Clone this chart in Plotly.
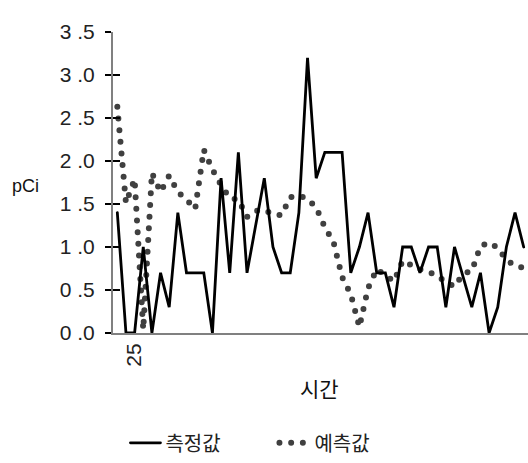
import plotly.graph_objects as go

# ---- data ----
time = list(range(23, 71))  # 48 time steps
measured = [1.4, 0, 0, 1.0, 0, 0.7, 0.3, 1.4, 0.7, 0.7, 0.7, 0, 1.8, 0.7, 2.1, 0.7,
            1.25, 1.8, 1.0, 0.7, 0.7, 1.4, 3.2, 1.8, 2.1, 2.1, 2.1, 0.7, 1.0, 1.4, 0.7, 0.7,
            0.3, 1.0, 1.0, 0.7, 1.0, 1.0, 0.3, 1.0, 0.65, 0.3, 0.7, 0, 0.3, 1.0, 1.4, 1.0]
predicted = [2.63, 1.51, 1.79, 0.04, 1.86, 1.64, 1.83, 1.64, 1.55, 1.44, 2.13, 1.9,
             1.72, 1.57, 1.55, 1.35, 1.42, 1.43, 1.38, 1.37, 1.58, 1.6, 1.56, 1.46,
             1.23, 1.06, 0.65, 0.45, 0.07, 0.52, 0.74, 0.67, 0.6, 0.84, 0.78, 0.74,
             0.71, 0.67, 0.59, 0.54, 0.69, 0.72, 1.01, 1.05, 0.99, 0.85, 0.78, 0.76]
y_ticks = [0, 0.5, 1.0, 1.5, 2.0, 2.5, 3.0, 3.5]
y_tick_text = ["0 .0", "0 .5", "1 .0", "1 .5", "2 .0", "2 .5", "3 .0", "3 .5"]
x_ticks = [25]
x_tick_text = ["25"]

fig = go.Figure()
fig.add_trace(go.Scatter(
    x=time, y=predicted, name="예측값", mode="lines",
    line=dict(color="#404040", width=6, dash="0px,11.7px"),
    yaxis="y", hoverinfo="skip",
))
fig.add_trace(go.Scatter(
    x=time, y=measured, name="측정값", mode="lines",
    line=dict(color="#000000", width=2.8),
    yaxis="y2", hoverinfo="skip",
))

axis_font = dict(family="Liberation Sans, Arial, sans-serif", size=21, color="#222222")

fig.update_layout(
    width=528, height=463,
    margin=dict(l=113, r=0, t=32, b=130),
    plot_bgcolor="white", paper_bgcolor="white",
    hovermode=False,
    showlegend=True,
    legend=dict(
        orientation="h", x=0.03, xanchor="left", y=-0.365, yanchor="middle",
        font=dict(family="Noto Sans CJK KR", size=20, color="#222222"),
        traceorder="reversed", entrywidth=104, itemwidth=30,
    ),
    xaxis=dict(
        range=[22.5, 70.5], tickmode="array", tickvals=x_ticks, ticktext=x_tick_text,
        tickangle=-90, tickfont=axis_font, ticks="", showgrid=False, zeroline=False,
        showline=True, linecolor="#808080", linewidth=2,
    ),
    yaxis=dict(
        range=[0, 3.5], tickmode="array", tickvals=y_ticks, ticktext=y_tick_text,
        tickfont=axis_font, ticks="outside", ticklen=6, tickwidth=1.5, tickcolor="#000000",
        showgrid=False, zeroline=False, showline=True, linecolor="#808080", linewidth=2,
        ticklabelstandoff=6,
    ),
    yaxis2=dict(
        range=[0, 3.5], overlaying="y", side="left", tickmode="array", tickvals=y_ticks,
        showticklabels=False, ticks="inside", ticklen=7, tickwidth=1.5, tickcolor="#000000",
        showgrid=False, zeroline=False, showline=False,
    ),
    annotations=[
        dict(text="pCi", xref="paper", yref="paper", x=-0.21, y=0.49, showarrow=False,
             xanchor="center", yanchor="middle",
             font=dict(family="Liberation Sans, Arial, sans-serif", size=18, color="#111111")),
        dict(text="시간", xref="paper", yref="paper", x=0.497, y=-0.183, showarrow=False,
             xanchor="center", yanchor="middle",
             font=dict(family="Noto Sans CJK KR", size=21, color="#111111")),
    ],
)

post = ("var s=document.createElement('style');"
        "s.innerHTML='.js-line{stroke-linecap:round} body{margin:0;overflow:hidden}';"
        "document.head.appendChild(s);")
fig.write_html("out.html", post_script=post, config={"displayModeBar": False, "staticPlot": True})
